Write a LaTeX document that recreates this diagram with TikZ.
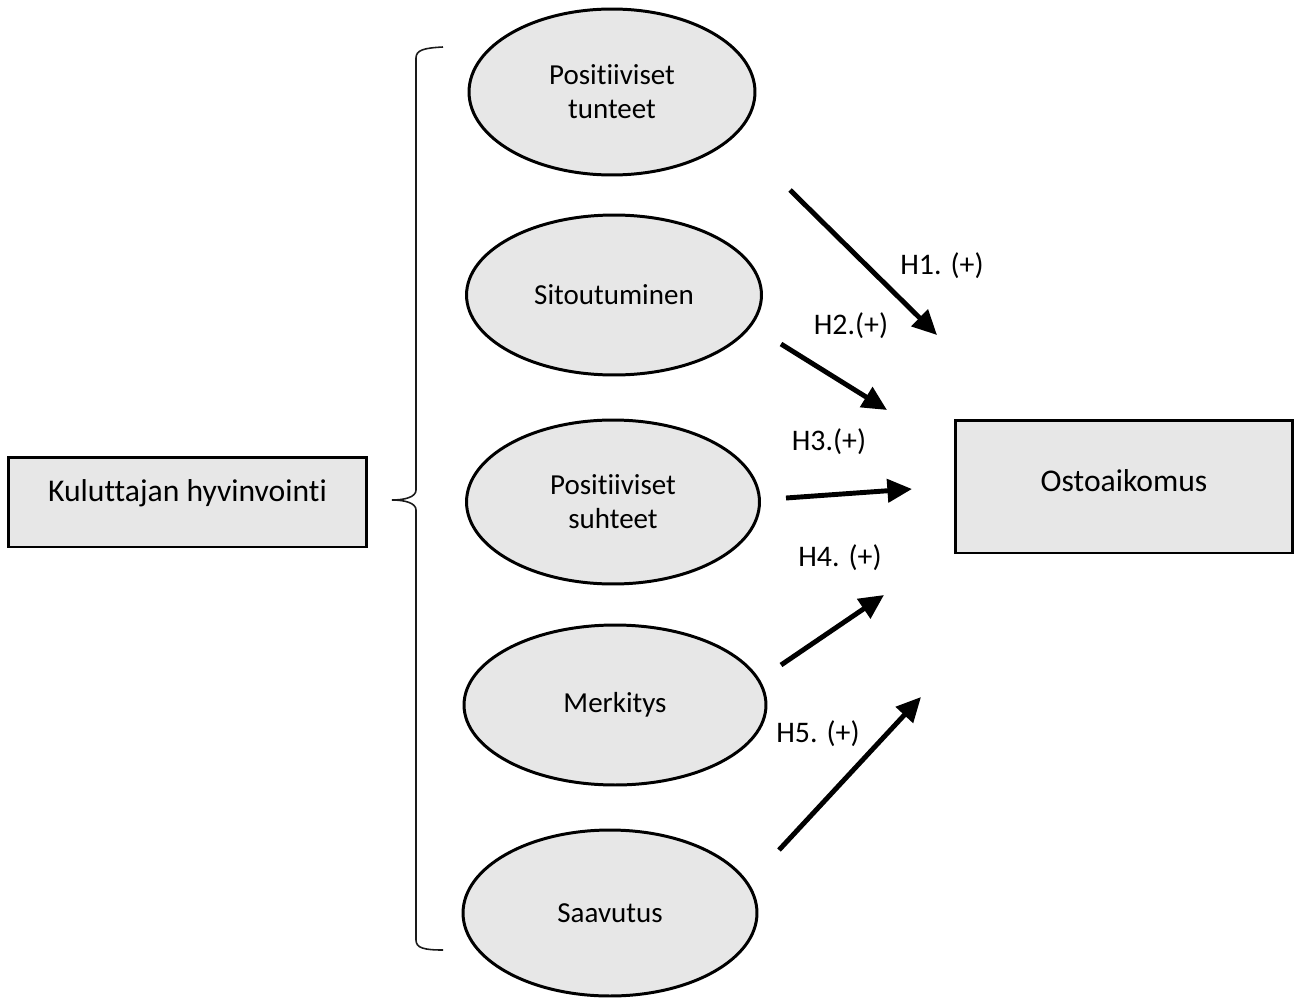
\documentclass[tikz,border=0pt]{standalone}
\usepackage{fontspec}
\setmainfont{Carlito}[Ligatures={NoCommon}, RawFeature={-liga;-clig}]
\usetikzlibrary{shapes.geometric,arrows.meta}
\definecolor{boxgrey}{HTML}{E7E7E7}
\definecolor{bracegrey}{HTML}{1A1A1A}
\tikzset{
  factor/.style={draw, ellipse, line width=1.7pt, fill=boxgrey, align=center,
    font=\fontsize{16.5}{19.3}\selectfont, inner sep=0pt},
  mainbox/.style={draw, rectangle, line width=1.7pt, fill=boxgrey, align=center,
    font=\fontsize{18}{22}\selectfont},
  hypo/.style={font=\fontsize{17}{20}\selectfont, inner sep=1pt},
  effect/.style={line width=2.8pt, -{Triangle[length=14pt,width=13pt]}}
}
\begin{document}
\begin{tikzpicture}[x=0.02cm, y=-0.02cm]
\useasboundingbox (0,0) rectangle (1300,997);
% wellbeing and intention
\node[mainbox, minimum width=7.18cm, minimum height=1.8cm, text height=0.3cm, text depth=0.34cm] (wellbeing) at (187.5,502) {Kuluttajan hyvinvointi};
\node[mainbox, minimum width=6.76cm, minimum height=2.66cm, text height=0.4cm, text depth=0.22cm] (intention) at (1124,486.5) {Ostoaikomus};
% the five dimensions
\node[factor, minimum width=5.72cm, minimum height=3.32cm] (emotion) at (612,92) {Positiiviset\\tunteet};
\node[factor, minimum width=5.9cm, minimum height=3.2cm] (engage) at (614,295) {Sitoutuminen};
\node[factor, minimum width=5.86cm, minimum height=3.28cm] (relation) at (613,502) {Positiiviset\\suhteet};
\node[factor, minimum width=6.04cm, minimum height=3.2cm] (meaning) at (615,705) {Merkitys};
\node[factor, minimum width=5.88cm, minimum height=3.32cm] (achieve) at (610,913) {Saavutus};
% brace
\draw[bracegrey, line width=0.9pt] (443,47) .. controls (424,48) and (416,50) .. (416,58)
  -- (416,490) .. controls (416,497) and (405,500) .. (392,500)
  .. controls (405,500) and (416,503) .. (416,510)
  -- (416,940) .. controls (416,948) and (424,950) .. (443,950);
% arrow end points
\coordinate (h1s) at (790,190);
\coordinate (h1e) at (937,335);
\coordinate (h2s) at (781,344);
\coordinate (h2e) at (887,410);
\coordinate (h3s) at (786,498);
\coordinate (h3e) at (912,489);
\coordinate (h4s) at (781,665);
\coordinate (h4e) at (884,595);
\coordinate (h5s) at (779,850);
\coordinate (h5e) at (921,697);
\draw[effect] (h1s) -- (h1e);
\draw[effect] (h2s) -- (h2e);
\draw[effect] (h3s) -- (h3e);
\draw[effect] (h4s) -- (h4e);
\draw[effect] (h5s) -- (h5e);
% labels
\node[hypo] (l1) at (942,266) {H1. (+)};
\node[hypo] (l2) at (851,326) {H2.(+)};
\node[hypo] (l3) at (829,442) {H3.(+)};
\node[hypo] (l4) at (840,558) {H4. (+)};
\node[hypo] (l5) at (818,734) {H5. (+)};
\end{tikzpicture}
\end{document}
